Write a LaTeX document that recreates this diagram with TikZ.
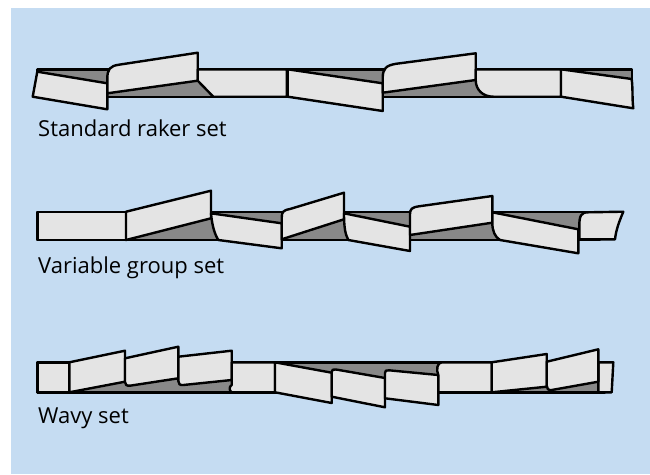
\documentclass[tikz,border=0pt]{standalone}
\usepackage{fontspec}
\setmainfont{Open Sans}
\definecolor{panelblue}{HTML}{C5DCF2}
\definecolor{toothgray}{HTML}{E4E4E4}
\definecolor{bladegray}{HTML}{888888}
\tikzset{
  blade/.style={fill=bladegray, draw=black, line width=2.4pt, line join=round},
  tooth/.style={fill=toothgray, draw=black, line width=2.4pt, line join=round},
  caption/.style={anchor=base west, inner sep=0pt, font=\fontsize{22}{26}\selectfont}
}
\begin{document}
\begin{tikzpicture}[x=1pt, y=-1pt]
\useasboundingbox (0,0) rectangle (650,474);
\fill[panelblue] (11,8) rectangle (650,474);

% ---------------- Standard raker set ----------------
\draw[blade] (37.3,69.3) rectangle (631.7,96.7);
\draw[tooth] (37.3,71.7) -- (32.7,96.7) -- (107.3,109.3) -- (107.3,83.3) -- cycle;
\draw[tooth] (107.3,93.3) -- (107.3,79) .. controls (107.3,69) and (110,66) .. (119,64.7)
  -- (197.7,52.7) -- (197.7,80.7) -- cycle;
\draw[tooth] (197.7,69.3) -- (286.7,69.3) -- (286.7,96.7) -- (213.3,96.7) -- (197.7,80.7) -- cycle;
\draw[tooth] (287.7,69.3) -- (382.7,83.3) -- (382.7,111) -- (287.7,96.7) -- cycle;
\draw[tooth] (382.7,92.7) -- (382.7,78.3) .. controls (382.7,68.5) and (386,65.5) .. (396,63.8)
  -- (475.7,53.3) -- (475.7,80) -- cycle;
\draw[tooth] (475.7,69.3) -- (561,69.3) -- (561,96.7) -- (493.3,96.7)
  .. controls (483,96.7) and (475.7,90) .. (475.7,80) -- cycle;
\draw[tooth] (561,69.3) -- (631.7,79) .. controls (633,90) and (632,98) .. (633.3,108.3)
  -- (561,96.7) -- cycle;
\node[caption] (rakerlabel) at (38,136.5) {Standard raker set};

% ---------------- Variable group set ----------------
\draw[blade] (37.3,211.7) rectangle (600,240);
\draw[tooth] (37.3,211.7) rectangle (126,240);
\draw[tooth] (126,240) -- (126,211.7) -- (211,190.7) -- (211,218.3) -- cycle;
\draw[tooth] (211,213.3) -- (281.7,223.3) -- (281.7,248.3) -- (218.3,240)
  .. controls (214,233) and (212,224) .. cycle;
\draw[tooth] (281.7,239.3) -- (281.7,218) .. controls (281.7,212) and (283,210.3) .. (290,209)
  -- (344,192.7) -- (344,219.3) -- cycle;
\draw[tooth] (344,213.3) -- (410,226.7) -- (410,251) -- (348.3,240)
  .. controls (345,234) and (344,226) .. cycle;
\draw[tooth] (410,235) -- (410,214) .. controls (410,209) and (412,207.3) .. (419,206.3)
  -- (492.3,196) -- (492.3,222.7) -- cycle;
\draw[tooth] (492.3,212.3) -- (578.3,229.3) -- (578.3,253.3) -- (500,240)
  .. controls (495,237) and (492.3,231) .. (492.3,222.7) -- cycle;
\draw[tooth] (579.3,239.3) -- (579.3,226) .. controls (579.3,216) and (581,212.3) .. (588,212.3)
  -- (623.3,211.7) .. controls (619,222) and (616,230) .. (615,239.3) -- cycle;
\node[caption] (grouplabel) at (38,273.5) {Variable group set};

% ---------------- Wavy set ----------------
\draw[blade] (37.3,362.3) rectangle (605,392.3);
\draw[tooth] (37.3,362.3) rectangle (69.3,392.3);
\draw[tooth] (69.3,392.3) -- (69.3,362.3) -- (125,350.7) -- (125,381.7) -- cycle;
\draw[tooth] (125,358.3) -- (178.3,346.7) -- (178.3,378.3) -- (130,385.7)
  .. controls (126.5,386) and (125,384.5) .. (125,382) -- cycle;
\draw[tooth] (178.3,356.7) -- (231.7,350.7) -- (231.7,380) -- (183.3,385)
  .. controls (179.8,385.3) and (178.3,384) .. (178.3,381) -- cycle;
\draw[tooth] (231.7,362.3) -- (275,362.3) -- (275,392.3) -- (231.7,392.3)
  .. controls (229,391) and (229,386.5) .. (231.7,385) -- cycle;
\draw[tooth] (275,362.3) -- (331.7,372.7) -- (331.7,403) -- (275,392.3) -- cycle;
\draw[tooth] (331.7,396.7) -- (331.7,372) .. controls (331.7,369.8) and (333,369) .. (336,369.5)
  -- (385,378) -- (385,407.3) -- cycle;
\draw[tooth] (385,398.3) -- (385,373) .. controls (385,370.8) and (386,370) .. (389,370.3)
  -- (438.3,375) -- (438.3,405) -- cycle;
\draw[tooth] (438.3,392.3) -- (438.3,375) .. controls (436,370) and (437,362.3) .. (442,362.3)
  -- (491.7,362.3) -- (491.7,392.3) -- cycle;
\draw[tooth] (598.3,362.3) -- (613.3,362.3) -- (611.7,392.3) -- (598.3,392.3) -- cycle;
\draw[tooth] (491.7,392.3) -- (491.7,362.3) -- (546.7,354) -- (546.7,386.7) -- cycle;
\draw[tooth] (546.7,361.7) -- (598.3,349.3) -- (598.3,381.7) -- (551.7,390)
  .. controls (548,390.5) and (546.7,388.5) .. (546.7,385.5) -- cycle;
\node[caption] (wavylabel) at (38,423.5) {Wavy set};
\end{tikzpicture}
\end{document}
